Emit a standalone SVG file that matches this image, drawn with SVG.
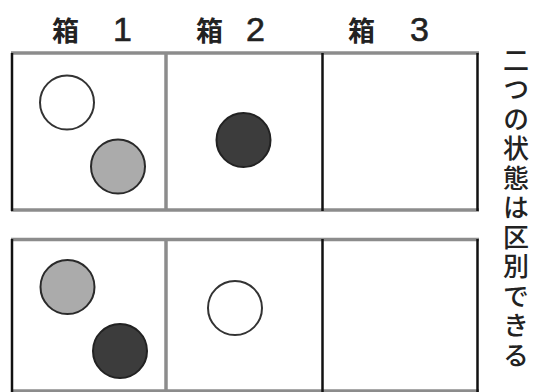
<svg xmlns="http://www.w3.org/2000/svg" width="536" height="392" viewBox="0 0 536 392">
<defs>
<style>
.lbl{font-family:"Noto Sans CJK JP","Liberation Sans",sans-serif;font-size:27px;font-weight:bold;fill:#222}
.num{font-family:"Liberation Sans",sans-serif;font-size:34px;font-weight:normal;fill:#222;stroke:#222;stroke-width:0.6}
.hl{stroke:#8c8c8c;stroke-width:3.5;fill:none}
.vk{stroke:#111;stroke-width:2.5;fill:none}
.vg{stroke:#8c8c8c;stroke-width:3.5;fill:none}
.white{fill:#fff;stroke:#333;stroke-width:2}
.gray{fill:#ababab;stroke:#2a2a2a;stroke-width:2}
.dark{fill:#3c3c3c;stroke:#222;stroke-width:2}
.side{font-family:"Noto Sans CJK JP",sans-serif;font-size:26px;font-weight:500;fill:#222;writing-mode:vertical-rl;letter-spacing:3.5px}
</style>
</defs>
<g id="labels">
<text class="lbl" x="52" y="41">箱<tspan class="num" x="113">1</tspan></text>
<text class="lbl" x="196" y="41">箱<tspan class="num" x="246">2</tspan></text>
<text class="lbl" x="348" y="41">箱<tspan class="num" x="410">3</tspan></text>
</g>
<g id="state1">
<line class="hl" x1="11" y1="53" x2="479" y2="53"/>
<line class="hl" x1="11" y1="210" x2="479" y2="210"/>
<line class="vk" x1="12" y1="53" x2="12" y2="211"/>
<line class="vg" x1="166" y1="53" x2="166" y2="211"/>
<line class="vk" x1="322.5" y1="53" x2="322.5" y2="211"/>
<line class="vk" x1="477.5" y1="53" x2="477.5" y2="211"/>
<circle class="white" cx="67" cy="102.5" r="27"/>
<circle class="gray" cx="118" cy="166.5" r="27"/>
<circle class="dark" cx="243.5" cy="140" r="27"/>
</g>
<g id="state2">
<line class="hl" x1="11" y1="239.5" x2="479" y2="239.5"/>
<line class="hl" x1="11" y1="391" x2="479" y2="391"/>
<line class="vk" x1="12" y1="239" x2="12" y2="392"/>
<line class="vg" x1="166" y1="239" x2="166" y2="392"/>
<line class="vk" x1="322.5" y1="239" x2="322.5" y2="392"/>
<line class="vk" x1="477.5" y1="239" x2="477.5" y2="392"/>
<circle class="gray" cx="67.5" cy="287" r="27"/>
<circle class="dark" cx="120" cy="351" r="27"/>
<circle class="white" cx="235" cy="308" r="27"/>
</g>
<text class="side" x="516" y="47">二つの状態は区別できる</text>
</svg>
